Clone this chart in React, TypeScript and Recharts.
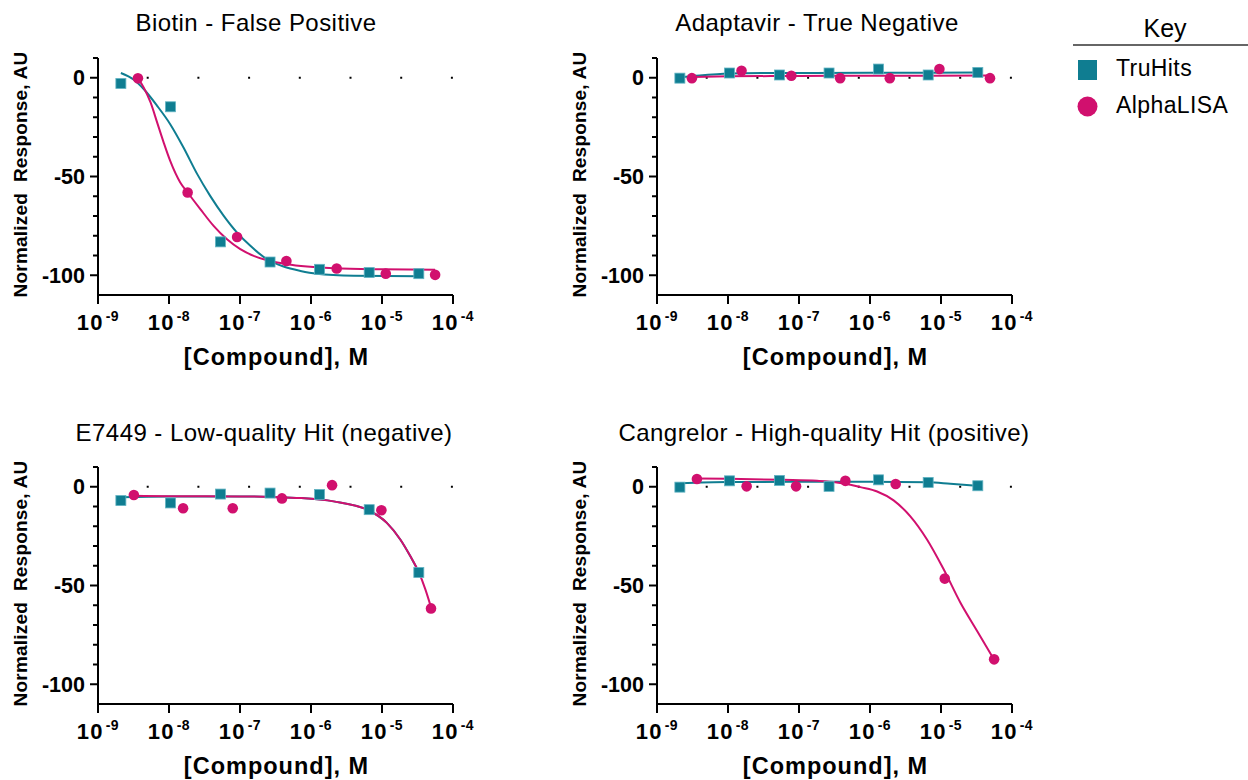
import React from 'react';
import { ComposedChart, Line, Scatter, XAxis, YAxis, ReferenceLine } from 'recharts';

const TEAL = '#0f7d91';
const PINK = '#d1106e';
const FONT = '"Liberation Sans", Arial, Helvetica, sans-serif';

// axes
const xTicks = [1e-9, 1e-8, 1e-7, 1e-6, 1e-5, 1e-4];
const xTickExp = ['-9', '-8', '-7', '-6', '-5', '-4'];
const yTicks = [10, 0, -10, -20, -30, -40, -50, -60, -70, -80, -90, -100, -110];
const yLabelled = [0, -50, -100];

// Biotin - False Positive
const biotinTruConc = [2.1e-9, 1.05e-8, 5.3e-8, 2.65e-7, 1.32e-6, 6.6e-6, 3.3e-5];
const biotinTruResp = [-2.9, -14.7, -83.1, -93.3, -97.0, -98.6, -99.2];
const biotinAlphaConc = [3.65e-9, 1.83e-8, 9.1e-8, 4.5e-7, 2.3e-6, 1.13e-5, 5.6e-5];
const biotinAlphaResp = [-0.3, -58.1, -80.6, -92.8, -96.6, -99.2, -99.8];
const biotinTruFitConc = [2.1e-9, 3.2e-9, 4.4e-9, 6.8e-9, 1.04e-8, 1.6e-8, 2.5e-8, 3.8e-8, 5.9e-8, 9.1e-8, 1.4e-7, 2.4e-7, 4.1e-7, 7.1e-7, 1.2e-6, 4e-6, 3.3e-5];
const biotinTruFitResp = [2.4, -1.0, -5.7, -14.2, -23.5, -35.3, -48.8, -59.8, -69.9, -78.4, -85.1, -91.9, -95.6, -97.8, -99.2, -100.2, -100.5];
const biotinAlphaFitConc = [3.65e-9, 4.4e-9, 5.5e-9, 6.8e-9, 8.4e-9, 1.04e-8, 1.44e-8, 1.83e-8, 2.76e-8, 4.25e-8, 6.56e-8, 1.01e-7, 1.56e-7, 2.67e-7, 4.6e-7, 8.8e-7, 2.1e-6, 1e-5, 5.6e-5];
const biotinAlphaFitResp = [-0.3, -4.9, -12.5, -22.6, -32.7, -42.1, -53.0, -58.1, -66.5, -75.0, -81.8, -86.8, -90.2, -92.8, -94.4, -95.6, -96.5, -97.0, -97.2];

// Adaptavir - True Negative
const adaptTruConc = [2.1e-9, 1.05e-8, 5.3e-8, 2.65e-7, 1.32e-6, 6.6e-6, 3.3e-5];
const adaptTruResp = [-0.2, 2.4, 1.4, 2.4, 4.4, 1.4, 2.7];
const adaptAlphaConc = [3.1e-9, 1.55e-8, 7.8e-8, 3.8e-7, 1.9e-6, 9.5e-6, 4.9e-5];
const adaptAlphaResp = [-0.2, 3.5, 1.0, -0.2, -0.2, 4.4, -0.2];
const adaptTruFitConc = [2.1e-9, 4e-9, 7e-9, 1.05e-8, 3e-8, 1e-6, 3.3e-5];
const adaptTruFitResp = [0.2, 1.2, 1.8, 2.1, 2.4, 2.5, 2.6];
const adaptAlphaFitConc = [3.1e-9, 1e-8, 1e-7, 1e-6, 4.9e-5];
const adaptAlphaFitResp = [0.4, 0.7, 0.9, 1.0, 1.1];

// E7449 - Low-quality Hit (negative)
const e7449TruConc = [2.1e-9, 1.05e-8, 5.3e-8, 2.65e-7, 1.32e-6, 6.6e-6, 3.3e-5];
const e7449TruResp = [-7.0, -8.2, -3.7, -3.2, -3.9, -11.6, -43.4];
const e7449AlphaConc = [3.2e-9, 1.58e-8, 7.9e-8, 3.9e-7, 1.98e-6, 9.8e-6, 4.9e-5];
const e7449AlphaResp = [-4.2, -10.9, -10.9, -5.9, 0.8, -11.9, -61.6];
const e7449TruFitConc = [2.1e-9, 1e-8, 1e-7, 3e-7, 7.06e-7, 2.08e-6, 6.47e-6, 1.17e-5, 1.81e-5, 2.5e-5, 3.3e-5];
const e7449TruFitResp = [-5.3, -4.9, -4.9, -5.2, -5.7, -7.4, -11.9, -18.3, -26.7, -35.1, -43.3];
const e7449AlphaFitConc = [3.2e-9, 1e-8, 1e-7, 3e-7, 7.06e-7, 2.08e-6, 6.47e-6, 1.17e-5, 1.81e-5, 2.5e-5, 3.28e-5, 4.07e-5, 4.94e-5];
const e7449AlphaFitResp = [-4.6, -4.8, -4.9, -5.2, -5.7, -7.4, -11.9, -18.3, -26.7, -35.1, -43.1, -51.8, -61.4];

// Cangrelor - High-quality Hit (positive)
const cangTruConc = [2.1e-9, 1.05e-8, 5.3e-8, 2.65e-7, 1.32e-6, 6.6e-6, 3.3e-5];
const cangTruResp = [-0.2, 3.0, 3.2, 0.2, 3.5, 2.2, 0.5];
const cangAlphaConc = [3.65e-9, 1.83e-8, 9.1e-8, 4.5e-7, 2.3e-6, 1.13e-5, 5.6e-5];
const cangAlphaResp = [3.9, 0.2, 0.2, 3.0, 1.4, -46.5, -87.4];
const cangTruFitConc = [2.1e-9, 1e-8, 1e-6, 6.6e-6, 1.35e-5, 3.3e-5];
const cangTruFitResp = [1.8, 2.4, 2.5, 2.3, 1.5, 0.4];
const cangAlphaFitConc = [3.65e-9, 1e-8, 6e-8, 1.8e-7, 3.4e-7, 5.3e-7, 7.3e-7, 1.26e-6, 2.15e-6, 3.7e-6, 6.35e-6, 1.09e-5, 1.87e-5, 3.21e-5, 5.5e-5];
const cangAlphaFitResp = [4.2, 4.0, 3.5, 3.0, 2.2, 1.0, -0.2, -2.4, -6.9, -15.0, -26.7, -41.8, -58.6, -72.9, -87.1];

const pts = (xs: number[], ys: number[]) => xs.map((x, i) => ({ x, y: ys[i] }));

const XTick = ({ x, y, payload }: any) => {
  const i = xTicks.indexOf(payload.value);
  return (
    <g>
      <line x1={x} x2={x} y1={y} y2={y + 9} stroke="#000" strokeWidth={2} />
      <text x={x} y={y + 35} textAnchor="middle" fontFamily={FONT} fontWeight="bold" fontSize={22} letterSpacing={1.2} fill="#000">
        10
        <tspan dx={2} dy={-9} fontSize={14} letterSpacing={0.5}>{xTickExp[i]}</tspan>
      </text>
    </g>
  );
};

const YTick = ({ x, y, payload }: any) => {
  const v = payload.value;
  if (v === -110) return null;
  const major = yLabelled.includes(v);
  return (
    <g>
      <line x1={x - (major ? 8 : 5)} x2={x} y1={y} y2={y} stroke="#000" strokeWidth={2} />
      {major && (
        <text x={x - 13} y={y} dy="0.36em" textAnchor="end" fontFamily={FONT} fontWeight="bold" fontSize={21.5} fill="#000">
          {v}
        </text>
      )}
    </g>
  );
};

const SquareDot = ({ cx, cy }: any) => (
  <rect x={cx - 5} y={cy - 5} width={10} height={10} fill={TEAL} stroke="#62b4c3" strokeWidth={0.8} />
);
const CircleDot = ({ cx, cy }: any) => <circle cx={cx} cy={cy} r={5.3} fill={PINK} />;

interface PanelProps {
  left: number;
  top: number;
  tru: { x: number; y: number }[];
  alpha: { x: number; y: number }[];
  truFit: { x: number; y: number }[];
  alphaFit: { x: number; y: number }[];
}

const Panel = ({ left, top, tru, alpha, truFit, alphaFit }: PanelProps) => (
  <div style={{ position: 'absolute', left, top }}>
    <ComposedChart width={500} height={380} margin={{ top: 58, right: 47, bottom: 0, left: 0 }}>
      <XAxis
        dataKey="x"
        type="number"
        scale="log"
        domain={[1e-9, 1e-4]}
        ticks={xTicks}
        interval={0}
        allowDataOverflow
        height={85}
        tickLine={false}
        tickSize={0}
        tickMargin={0}
        axisLine={{ stroke: '#000', strokeWidth: 2 }}
        tick={(p: any) => <XTick {...p} />}
        label={(p: any) => {
          const vb = p.viewBox;
          return (
            <text x={vb.x + vb.width / 2 + 1} y={vb.y + 70} textAnchor="middle" fontFamily={FONT} fontWeight="bold" fontSize={23.5} letterSpacing={1} fill="#000">
              [Compound], M
            </text>
          );
        }}
      />
      <YAxis
        type="number"
        domain={[-110, 10]}
        ticks={yTicks}
        interval={0}
        allowDataOverflow
        width={98}
        tickLine={false}
        tickSize={0}
        tickMargin={0}
        axisLine={{ stroke: '#000', strokeWidth: 2 }}
        tick={(p: any) => <YTick {...p} />}
        label={(p: any) => {
          const vb = p.viewBox;
          const cx = vb.x + 27;
          const cy = vb.y + vb.height / 2 - 2;
          return (
            <text x={cx} y={cy} transform={`rotate(-90, ${cx}, ${cy})`} textAnchor="middle" fontFamily={FONT} fontWeight="bold" fontSize={19} letterSpacing={0.2} fill="#000" style={{ whiteSpace: 'pre' }}>
              Normalized  Response, AU
            </text>
          );
        }}
      />
      <ReferenceLine y={0} stroke="#000" strokeWidth={2} strokeDasharray="0 48.7 2 0" />
      <Line data={truFit} dataKey="y" type="monotone" stroke={TEAL} strokeWidth={2} dot={false} activeDot={false} isAnimationActive={false} />
      <Line data={alphaFit} dataKey="y" type="monotone" stroke={PINK} strokeWidth={2} dot={false} activeDot={false} isAnimationActive={false} />
      <Scatter data={tru} dataKey="y" shape={(p: any) => <SquareDot {...p} />} isAnimationActive={false} />
      <Scatter data={alpha} dataKey="y" shape={(p: any) => <CircleDot {...p} />} isAnimationActive={false} />
    </ComposedChart>
  </div>
);

const titleStyle = { fontFamily: FONT, fontSize: 24, letterSpacing: 0.45, fill: '#000' };

export default function App() {
  return (
    <div style={{ position: 'absolute', left: 0, top: 0, width: 1248, height: 780, background: '#fff', overflow: 'hidden' }}>
      <Panel left={0} top={0} tru={pts(biotinTruConc, biotinTruResp)} alpha={pts(biotinAlphaConc, biotinAlphaResp)} truFit={pts(biotinTruFitConc, biotinTruFitResp)} alphaFit={pts(biotinAlphaFitConc, biotinAlphaFitResp)} />
      <Panel left={559} top={0} tru={pts(adaptTruConc, adaptTruResp)} alpha={pts(adaptAlphaConc, adaptAlphaResp)} truFit={pts(adaptTruFitConc, adaptTruFitResp)} alphaFit={pts(adaptAlphaFitConc, adaptAlphaFitResp)} />
      <Panel left={0} top={409} tru={pts(e7449TruConc, e7449TruResp)} alpha={pts(e7449AlphaConc, e7449AlphaResp)} truFit={pts(e7449TruFitConc, e7449TruFitResp)} alphaFit={pts(e7449AlphaFitConc, e7449AlphaFitResp)} />
      <Panel left={559} top={409} tru={pts(cangTruConc, cangTruResp)} alpha={pts(cangAlphaConc, cangAlphaResp)} truFit={pts(cangTruFitConc, cangTruFitResp)} alphaFit={pts(cangAlphaFitConc, cangAlphaFitResp)} />
      <svg width={1248} height={780} style={{ position: 'absolute', left: 0, top: 0, pointerEvents: 'none' }}>
        <text x={256} y={31} textAnchor="middle" {...titleStyle}>Biotin - False Positive</text>
        <text x={817} y={31} textAnchor="middle" {...titleStyle}>Adaptavir - True Negative</text>
        <text x={264} y={441} textAnchor="middle" {...titleStyle}>E7449 - Low-quality Hit (negative)</text>
        <text x={824} y={441} textAnchor="middle" {...titleStyle}>Cangrelor - High-quality Hit (positive)</text>
        {/* key */}
        <text x={1165} y={37} textAnchor="middle" fontFamily={FONT} fontSize={25} fill="#000">Key</text>
        <line x1={1073} x2={1248} y1={45} y2={45} stroke="#333" strokeWidth={1.5} />
        <rect x={1078} y={60} width={19} height={20} fill={TEAL} />
        <text x={1116} y={76} fontFamily={FONT} fontSize={23} letterSpacing={0.4} fill="#000">TruHits</text>
        <circle cx={1087.5} cy={106.5} r={10} fill={PINK} />
        <text x={1116} y={113} fontFamily={FONT} fontSize={23} letterSpacing={0.4} fill="#000">AlphaLISA</text>
      </svg>
    </div>
  );
}
